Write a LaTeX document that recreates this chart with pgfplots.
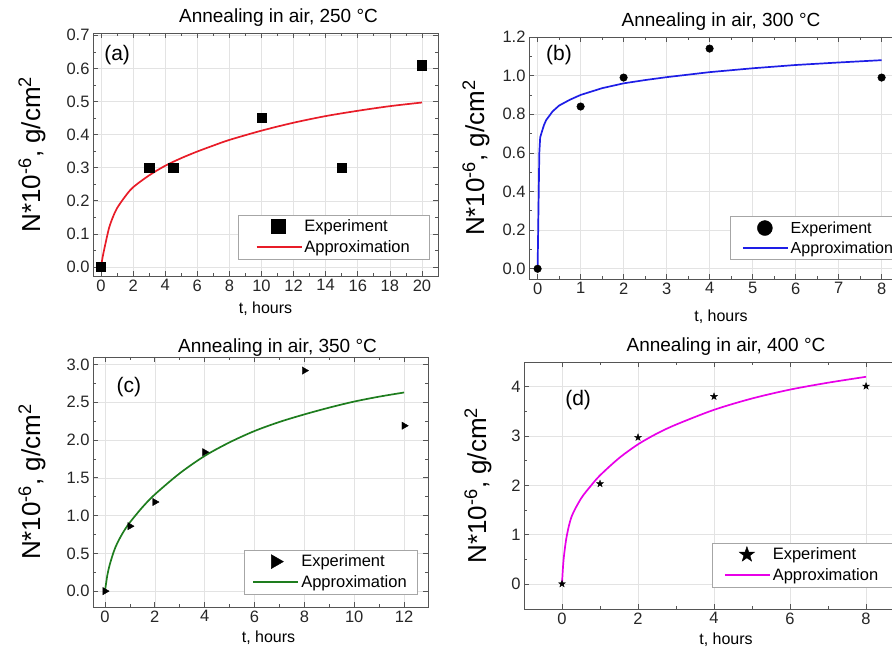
\documentclass[border=0pt]{standalone}
\usepackage{fontspec}
\setmainfont{Liberation Sans}
\usepackage{pgfplots}
\pgfplotsset{compat=1.18}
\usetikzlibrary{plotmarks}

\definecolor{cRed}{RGB}{232,28,40}
\definecolor{cBlue}{RGB}{30,30,230}
\definecolor{cGreen}{RGB}{30,125,30}
\definecolor{cMag}{RGB}{232,0,232}
\definecolor{axgray}{RGB}{85,85,85}

% filled five-pointed star
\pgfdeclareplotmark{fstar}{%
  \pgfpathmoveto{\pgfpointpolar{90}{\pgfplotmarksize}}%
  \pgfpathlineto{\pgfpointpolar{126}{0.4\pgfplotmarksize}}%
  \pgfpathlineto{\pgfpointpolar{162}{\pgfplotmarksize}}%
  \pgfpathlineto{\pgfpointpolar{198}{0.4\pgfplotmarksize}}%
  \pgfpathlineto{\pgfpointpolar{234}{\pgfplotmarksize}}%
  \pgfpathlineto{\pgfpointpolar{270}{0.4\pgfplotmarksize}}%
  \pgfpathlineto{\pgfpointpolar{306}{\pgfplotmarksize}}%
  \pgfpathlineto{\pgfpointpolar{342}{0.4\pgfplotmarksize}}%
  \pgfpathlineto{\pgfpointpolar{18}{\pgfplotmarksize}}%
  \pgfpathlineto{\pgfpointpolar{54}{0.4\pgfplotmarksize}}%
  \pgfpathclose\pgfusepathqfillstroke}

\pgfplotsset{
  panel/.style={
    scale only axis,
    axis line style={axgray, line width=0.9pt},
    tick style={axgray, line width=0.7pt},
    tick align=inside,
    major tick length=5pt,
    minor tick length=3pt,
    minor tick num=1,
    grid=major,
    major grid style={gray!22, line width=0.6pt},
    /pgf/number format/assume math mode=true,
    ticklabel style={font=\fontsize{16.5}{16.5}\selectfont, text=black!85},
    title style={font=\fontsize{19}{19}\selectfont, at={(axis description cs:0.5,1)}, anchor=center, yshift=9pt},
    xlabel style={font=\fontsize{16}{16}\selectfont},
    ylabel style={font=\fontsize{26}{26}\selectfont, anchor=center},
    xlabel={t, hours},
    ylabel={N*10\textsuperscript{-6}, g/cm\textsuperscript{2}},
    legend cell align=left,
    legend style={draw=gray!70, fill=white, font=\fontsize{16.5}{16.5}\selectfont,
      inner xsep=12pt, inner ysep=3pt, row sep=3pt},
  },
  expleg/.style={legend image code/.code={\draw[##1, mark size=#1] plot coordinates {(22pt,0pt)};}},
  lineleg/.style={legend image code/.code={\draw[#1, line width=1.7pt] (0pt,0pt) -- (45pt,0pt);}},
  yfix/.style={yticklabel style={/pgf/number format/.cd, fixed, fixed zerofill, precision=1}},
}

\begin{document}
\begin{tikzpicture}

% (a) 250 C
\begin{axis}[panel, yfix,
    at={(93pt,375pt)}, anchor=south west, width=345pt, height=243pt,
    xmin=-0.5, xmax=21, ymin=-0.027, ymax=0.707,
    xtick={0,2,...,20}, ytick={0,0.1,...,0.7},
    title={Annealing in air, 250 °C}, title style={xshift=13pt},
    xlabel style={at={(axis description cs:0.5,0)}, anchor=center, yshift=-33pt},
    ylabel style={at={(axis description cs:-0.177,0.5)}},
    legend style={at={(0.974,0.07)}, anchor=south east, inner xsep=17pt},
  ]
  \addplot[only marks, mark=square*, mark size=4.6pt, black, expleg=7pt]
    coordinates {(0,0) (3,0.3) (4.5,0.3) (10,0.45) (15,0.3) (20,0.61)};
  \addlegendentry{Experiment}
  \addplot[cRed, line width=1.7pt, smooth, lineleg=cRed]
    coordinates {(0,0) (0.1,0.03) (0.25,0.065) (0.5,0.118) (0.75,0.152) (1,0.178)
      (1.5,0.213) (2,0.241) (3,0.277) (4,0.306) (5,0.329) (6,0.349) (7,0.367) (8,0.384)
      (10,0.412) (12,0.436) (14,0.456) (16,0.472) (18,0.486) (20,0.497)};
  \addlegendentry{Approximation}
  \node[font=\fontsize{21}{21}\selectfont] at (axis description cs:0.07,0.909) {(a)};
\end{axis}

% (b) 300 C
\begin{axis}[panel, yfix,
    at={(529pt,372pt)}, anchor=south west, width=384pt, height=242pt,
    xmin=-0.2, xmax=8.73, ymin=-0.053, ymax=1.2,
    xtick={0,1,...,8}, ytick={0,0.2,...,1.2},
    title={Annealing in air, 300 °C},
    xlabel style={at={(axis description cs:0.5,0)}, anchor=center, yshift=-38pt},
    ylabel style={at={(axis description cs:-0.138,0.5)}},
    legend style={at={(0.523,0.079)}, anchor=south west, font=\fontsize{16}{16}\selectfont},
  ]
  \addplot[only marks, mark=*, mark size=3.8pt, black, expleg=7.5pt]
    coordinates {(0,0) (1,0.84) (2,0.99) (4,1.14) (8,0.99)};
  \addlegendentry{Experiment}
  \addplot[cBlue, line width=1.7pt, lineleg=cBlue]
    coordinates {(0,0) (0.02,0.3) (0.04,0.6) (0.06,0.68) (0.1,0.71) (0.15,0.745)
      (0.2,0.77) (0.35,0.815) (0.5,0.845) (0.75,0.875) (1,0.9) (1.5,0.935) (2,0.96)
      (2.5,0.977) (3,0.992) (4,1.018) (5,1.038) (6,1.055) (7,1.068) (8,1.08)};
  \addlegendentry{Approximation}
  \node[font=\fontsize{21}{21}\selectfont] at (axis description cs:0.078,0.926) {(b)};
\end{axis}

% (c) 350 C
\begin{axis}[panel, yfix,
    at={(93pt,44pt)}, anchor=south west, width=335pt, height=250pt,
    xmin=-0.48, xmax=12.96, ymin=-0.21, ymax=3.1,
    xtick={0,2,...,12}, ytick={0,0.5,...,3.0},
    title={Annealing in air, 350 °C}, title style={xshift=17pt, yshift=-6pt},
    xlabel style={at={(axis description cs:0.5,0)}, anchor=center, yshift=-31pt, xshift=8pt},
    ylabel style={at={(axis description cs:-0.182,0.5)}},
    legend style={at={(0.967,0.052)}, anchor=south east, inner xsep=8pt},
  ]
  \addplot[only marks, mark=triangle*, mark options={rotate=-90}, mark size=4.2pt, black, expleg=8pt]
    coordinates {(0,0) (1,0.86) (2,1.18) (4,1.84) (8,2.92) (12,2.19)};
  \addlegendentry{Experiment}
  \addplot[cGreen, line width=1.7pt, smooth, lineleg=cGreen]
    coordinates {(0,0) (0.1,0.22) (0.2,0.36) (0.35,0.52) (0.5,0.64) (0.75,0.79) (1,0.91)
      (1.5,1.11) (2,1.28) (3,1.56) (4,1.79) (5,1.97) (6,2.12) (7,2.24) (8,2.34)
      (9,2.43) (10,2.51) (11,2.575) (12,2.63)};
  \addlegendentry{Approximation}
  \node[font=\fontsize{21}{21}\selectfont] at (axis description cs:0.107,0.88) {(c)};
\end{axis}

% (d) 400 C
\begin{axis}[panel,
    at={(524pt,42pt)}, anchor=south west, width=404pt, height=247pt,
    xmin=-1, xmax=9.63, ymin=-0.51, ymax=4.5,
    xtick={0,2,...,8}, ytick={0,1,...,4},
    title={Annealing in air, 400 °C},
    xlabel style={at={(axis description cs:0.5,0)}, anchor=center, yshift=-31pt},
    ylabel style={at={(axis description cs:-0.114,0.5)}},
    legend style={at={(0.465,0.089)}, anchor=south west},
  ]
  \addplot[only marks, mark=fstar, mark size=3.6pt, black, expleg=8pt]
    coordinates {(0,0) (1,2.03) (2,2.97) (4,3.8) (8,4.01)};
  \addlegendentry{Experiment}
  \addplot[cMag, line width=1.7pt, smooth, lineleg=cMag]
    coordinates {(0,0) (0.04,0.48) (0.12,0.95) (0.25,1.36) (0.5,1.73) (0.75,1.98)
      (1,2.2) (1.5,2.55) (2,2.83) (2.5,3.05) (3,3.23) (4,3.53) (5,3.76) (6,3.94)
      (7,4.08) (8,4.2)};
  \addlegendentry{Approximation}
  \node[font=\fontsize{21}{21}\selectfont] at (axis description cs:0.134,0.846) {(d)};
\end{axis}

\pgfresetboundingbox
\useasboundingbox (0pt,0pt) rectangle (892pt,651pt);
\end{tikzpicture}
\end{document}
